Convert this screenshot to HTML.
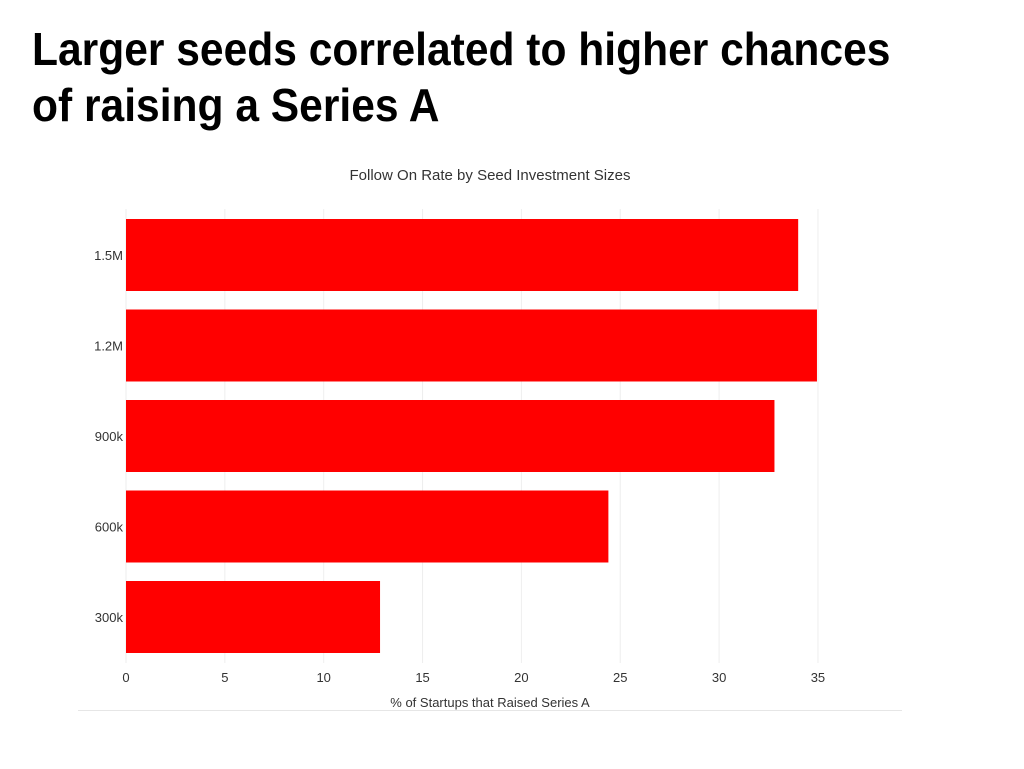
<!DOCTYPE html>
<html><head><meta charset="utf-8"><style>
body{margin:0;width:1024px;height:769px;background:#fff;overflow:hidden;font-family:"Liberation Sans",sans-serif}
#title{position:absolute;left:32px;top:21px;font-size:46px;font-weight:bold;line-height:56px;white-space:nowrap;transform:scaleX(0.925);transform-origin:left top;color:#000}
</style></head><body>
<div id="title">Larger seeds correlated to higher chances<br>of raising a Series A</div>
<svg id="chart" width="1024" height="769" style="position:absolute;left:0;top:0"></svg>
<script>
const categories=["1.5M","1.2M","900k","600k","300k"];
const values=[34.0,34.95,32.8,24.4,12.85];
const ticks=[0,5,10,15,20,25,30,35];
const NS="http://www.w3.org/2000/svg";
const svg=document.getElementById('chart');
const x0=126,pxPer=19.77,plotTop=209,band=90.5,barH=72;
const xs=v=>x0+v*pxPer;
function mk(t,a,txt){const e=document.createElementNS(NS,t);for(const k in a)e.setAttribute(k,a[k]);if(txt!==undefined)e.textContent=txt;svg.appendChild(e);return e;}
const tt=mk('text',{x:490,y:180,'text-anchor':'middle','font-size':15,fill:'#333'},'Follow On Rate by Seed Investment Sizes');


ticks.forEach(t=>{
 const g=mk('line',{x1:xs(t),x2:xs(t),y1:plotTop,y2:663,stroke:'#eee','stroke-width':1});
 
 
 const l=mk('text',{x:xs(t),y:682,'text-anchor':'middle','font-size':13,fill:'#333'},String(t));
 
 
});
categories.forEach((c,i)=>{
 const y=plotTop+10+i*band;
 const r=mk('rect',{x:x0,y:y,width:xs(values[i])-x0,height:barH,fill:'#ff0000'});
 
 
 const l=mk('text',{x:x0-3,y:y+barH/2+5,'text-anchor':'end','font-size':13,fill:'#333'},c);
 
 
});
const at=mk('text',{x:490,y:707,'text-anchor':'middle','font-size':13,fill:'#333'},'% of Startups that Raised Series A');


const bl=mk('line',{x1:78,x2:902,y1:710.5,y2:710.5,stroke:'#e6e6e6','stroke-width':1});


</script>
</body></html>
